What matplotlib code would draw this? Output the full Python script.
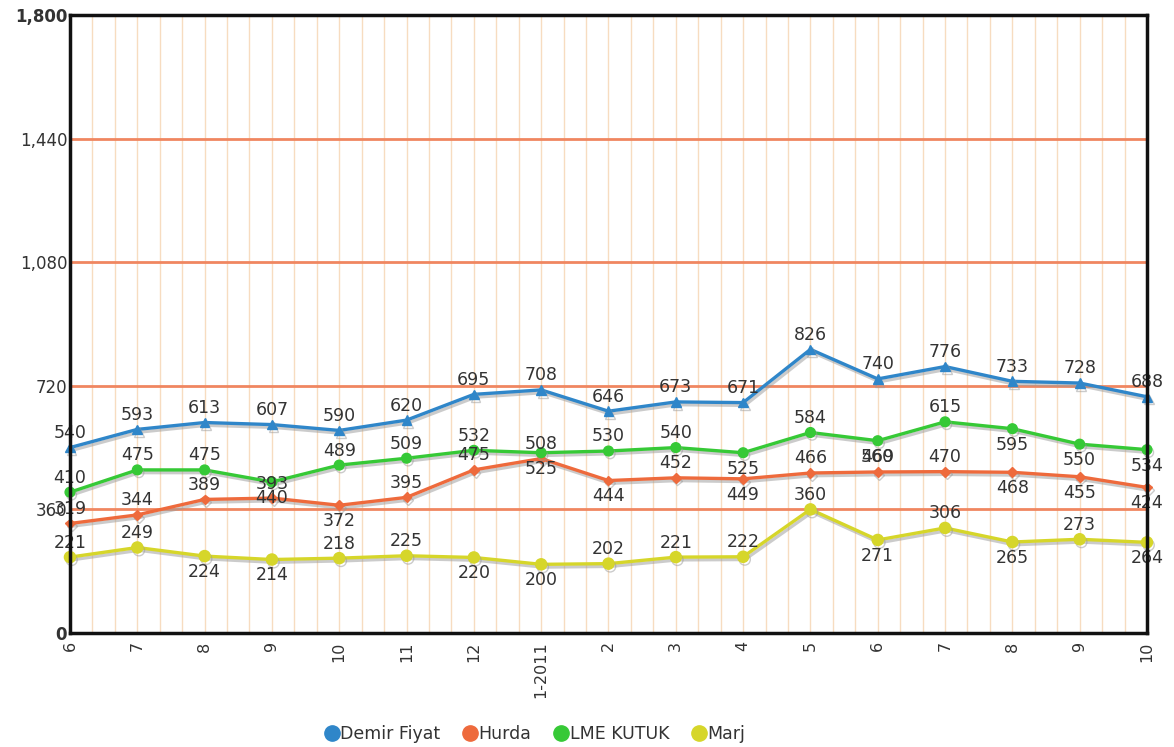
# Demir fiyat / hurda / LME kutuk / marj line chart

import matplotlib
matplotlib.use('Agg')
import matplotlib.pyplot as plt
import matplotlib.patheffects as pe
from matplotlib.lines import Line2D
from matplotlib.ticker import MultipleLocator, FuncFormatter

months = ['6', '7', '8', '9', '10', '11', '12', '1-2011', '2', '3', '4',
          '5', '6', '7', '8', '9', '10']

demir = [540, 593, 613, 607, 590, 620, 695, 708, 646, 673, 671, 826, 740, 776, 733, 728, 688]
hurda = [319, 344, 389, 393, 372, 395, 475, 508, 444, 452, 449, 466, 469, 470, 468, 455, 424]
lme = [410, 475, 475, 440, 489, 509, 532, 525, 530, 540, 525, 584, 560, 615, 595, 550, 534]
marj = [221, 249, 224, 214, 218, 225, 220, 200, 202, 221, 222, 360, 271, 306, 265, 273, 264]

# label side for each point: 1 above, -1 below
demir_side = [1] * 17
hurda_side = [1, 1, 1, 1, -1, 1, 1, 1, -1, 1, -1, 1, 1, 1, -1, -1, -1]
lme_side = [1, 1, 1, -1, 1, 1, 1, -1, 1, 1, -1, 1, -1, 1, -1, -1, -1]
marj_side = [1, 1, -1, -1, 1, 1, -1, -1, 1, 1, 1, 1, -1, 1, -1, 1, -1]

series = [
    ('Demir Fiyat', demir, demir_side, '#2f86c9', '^', 7),
    ('Hurda', hurda, hurda_side, '#ee6a3c', 'D', 5),
    ('LME KUTUK', lme, lme_side, '#36c936', 'o', 7),
    ('Marj', marj, marj_side, '#d6d62a', 'o', 8),
]

fig = plt.figure(figsize=(11.74, 7.47), dpi=100)
ax = fig.add_axes([0.0596, 0.1526, 0.9174, 0.8274])

x = list(range(len(months)))

for name, vals, sides, color, mk, ms in series:
    ax.plot(x, vals, color=color, lw=2.4, marker=mk, markersize=ms,
            markeredgecolor=color, zorder=3, clip_on=False,
            path_effects=[pe.SimpleLineShadow(offset=(1.2, -2), shadow_color='#999999', alpha=0.5),
                          pe.Normal()])
    for xi, v, s in zip(x, vals, sides):
        ax.annotate(str(v), (xi, v), xytext=(0, 4 if s > 0 else -5),
                    textcoords='offset points', ha='center',
                    va='bottom' if s > 0 else 'top', fontsize=12.5,
                    color='#333333', zorder=4, annotation_clip=False)

ax.set_xlim(0, len(months) - 1)
ax.set_ylim(0, 1800)
ax.set_yticks([0, 360, 720, 1080, 1440, 1800])
ax.yaxis.set_major_formatter(FuncFormatter(lambda v, p: f'{int(v):,}'))
ax.set_xticks(x)
ax.set_xticklabels(months, rotation=90, fontsize=11.5, color='#333333')
ax.xaxis.set_minor_locator(MultipleLocator(1 / 3))
ax.tick_params(axis='both', which='both', length=0)
ax.tick_params(axis='y', labelsize=12, labelcolor='#333333', pad=2)
ax.tick_params(axis='x', pad=6)
for lbl in ax.get_yticklabels():
    if lbl.get_text() in ('0', '1,800'):
        lbl.set_fontweight('bold')

ax.grid(axis='x', which='both', color='#f7dcc0', lw=1)
ax.grid(axis='y', which='major', color='#f08660', lw=2)
ax.set_axisbelow(True)

for sp in ax.spines.values():
    sp.set_linewidth(2.5)
    sp.set_color('#111111')
    sp.set_zorder(5)

handles = [Line2D([], [], ls='', marker='o', markersize=11, color=c) for _, _, _, c, _, _ in series]
fig.legend(handles, [s[0] for s in series], loc='center', bbox_to_anchor=(0.455, 0.017),
           ncol=4, frameon=False, fontsize=12.5, handletextpad=0.0, columnspacing=1.2,
           handlelength=1.0, labelcolor='#333333')

fig.savefig('out.png', dpi=100)
